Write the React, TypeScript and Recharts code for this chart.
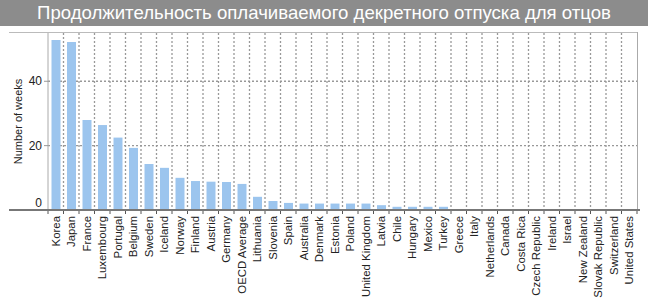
import React from "react";
import { BarChart, Bar, XAxis, YAxis, CartesianGrid } from "recharts";

const countries = [
  "Korea", "Japan", "France", "Luxembourg", "Portugal", "Belgium", "Sweden", "Iceland",
  "Norway", "Finland", "Austria", "Germany", "OECD Average", "Lithuania", "Slovenia", "Spain",
  "Australia", "Denmark", "Estonia", "Poland", "United Kingdom", "Latvia", "Chile", "Hungary",
  "Mexico", "Turkey", "Greece", "Italy", "Netherlands", "Canada", "Costa Rica", "Czech Republic",
  "Ireland", "Israel", "New Zealand", "Slovak Republic", "Switzerland", "United States",
];
const weeks = [
  52.8, 52.2, 28.0, 26.4, 22.5, 19.3, 14.3, 13.1,
  10.0, 9.0, 8.8, 8.7, 8.1, 4.1, 2.8, 2.2,
  2.0, 2.0, 2.0, 2.0, 2.0, 1.5, 1.0, 1.0,
  1.0, 1.0, 0, 0, 0, 0, 0, 0,
  0, 0, 0, 0, 0, 0,
];
const yTicks = [0, 20, 40];
const title = "Продолжительность оплачиваемого декретного отпуска для отцов";
const yLabel = "Number of weeks";

const data = countries.map((c, i) => ({ country: c, weeks: weeks[i] }));

const FONT = "'Liberation Sans', Arial, Helvetica, sans-serif";
const W = 648;
const CH = 278;
const M = { top: 7, right: 11, left: 0, bottom: 0 };
const YW = 48;
const XH = 94;
const plotW = W - M.left - M.right - YW;
const band = plotW / countries.length;

const XTick = (props: any) => {
  const { x, y, payload } = props;
  const bx = x - band / 2;
  return (
    <g>
      <line x1={bx} x2={bx} y1={y - 8} y2={y - 4} stroke="#555" strokeWidth={1} />
      {payload.index === countries.length - 1 ? (
        <line x1={bx + band} x2={bx + band} y1={y - 8} y2={y - 4} stroke="#555" strokeWidth={1} />
      ) : null}
      <text
        x={x}
        y={y - 2}
        transform={`rotate(-90, ${x}, ${y - 2})`}
        textAnchor="end"
        dy="0.35em"
        fontSize={11.4}
        fill="#222"
        fontFamily={FONT}
      >
        {payload.value}
      </text>
    </g>
  );
};

const YTick = (props: any) => {
  const { x, y, payload } = props;
  const yy = payload.value === 0 ? y - 7 : y;
  return (
    <text x={x} y={yy} dy="0.35em" textAnchor="end" fontSize={12} fill="#222" fontFamily={FONT}>
      {payload.value}
    </text>
  );
};

export default function App() {
  return (
    <div style={{ position: "absolute", left: 0, top: 0, width: W, height: 304, background: "#fff", fontFamily: FONT }}>
      <div
        style={{
          position: "absolute",
          left: 0,
          top: 0,
          width: W,
          height: 26,
          background: "#8c8c8c",
          color: "#fff",
          fontSize: 18.6,
          lineHeight: "26px",
          textAlign: "center",
          fontFamily: FONT,
        }}
      >
        {title}
      </div>
      <div style={{ position: "absolute", left: 0, top: 26 }}>
        <BarChart width={W} height={CH} data={data} margin={M} barCategoryGap={3.5}>
          <CartesianGrid
            vertical={true}
            horizontal={true}
            stroke="#999"
            strokeDasharray="2 2"
            strokeWidth={1.3}
            horizontalValues={[20, 40]}
            verticalCoordinatesGenerator={({ offset }: any) =>
              countries.slice(1).map((_, i) => offset.left + (i + 1) * (offset.width / countries.length))
            }
          />
          <XAxis
            dataKey="country"
            interval={0}
            height={XH}
            tick={<XTick />}
            tickLine={false}
            axisLine={false}
          />
          <YAxis
            width={YW}
            domain={[0, 55]}
            ticks={yTicks}
            tick={<YTick />}
            tickSize={4}
            tickMargin={2}
            tickLine={{ stroke: "#999" }}
            axisLine={{ stroke: "#aaa" }}
            label={{
              value: yLabel,
              angle: -90,
              position: "insideLeft",
              dx: 13,
              style: { fontSize: 11, fill: "#222", fontFamily: FONT, textAnchor: "middle" },
            }}
          />
          <Bar dataKey="weeks" fill="#9cc5ee" isAnimationActive={false} />
        </BarChart>
      </div>
      <div style={{ position: "absolute", left: 9, top: 32, width: 628, height: 1, background: "#bbb" }} />
      <div style={{ position: "absolute", left: 637, top: 32, width: 1, height: 178, background: "#aaa" }} />
      <div style={{ position: "absolute", left: 9, top: 209, width: 631, height: 2, background: "#777" }} />
    </div>
  );
}
